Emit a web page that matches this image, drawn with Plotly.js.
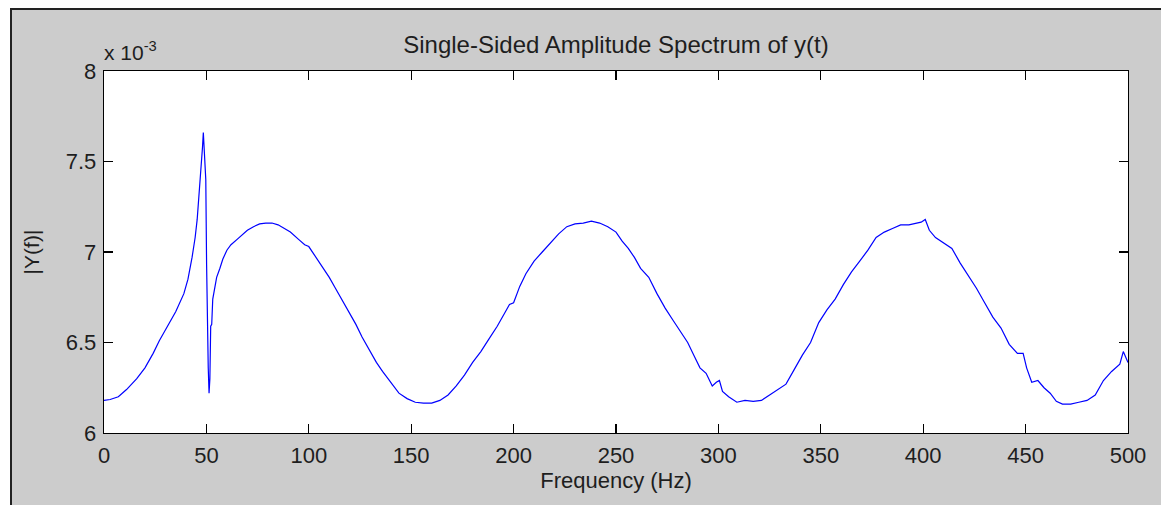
<!DOCTYPE html>
<html>
<head>
<meta charset="utf-8">
<script src="https://cdn.plot.ly/plotly-3.0.1.min.js"></script>
<style>
  html, body { margin: 0; padding: 0; background: #ffffff; width: 1161px; height: 505px; overflow: hidden; }
  #wrap { position: absolute; left: 10px; top: 8px; width: 1151px; height: 497px;
          border-left: 2px solid #222; border-top: 2px solid #222; background: #cccccc; }
  #chart { width: 1149px; height: 495px; }
</style>
</head>
<body>
<div id="wrap"><div id="chart"></div></div>
<script>
// Frequency (Hz)
const freq = [0, 3, 7, 11, 16, 20, 24, 27, 31, 35, 39, 41, 43, 44.5, 45.5, 46.3, 47, 47.6, 48.1, 48.5, 48.9, 49.3, 49.7, 50.1, 50.5, 50.9, 51.3, 51.7, 52.1, 52.6, 53.1, 54, 55, 56.6, 58, 60, 62, 65, 68, 70, 73, 76, 79, 82, 85, 88, 91, 95, 98, 100, 103, 106, 110, 113, 116, 120, 123, 126, 130, 133, 136, 140, 144, 148, 152, 156, 160, 164, 168, 172, 176, 180, 184, 188, 192, 196, 198, 200, 203, 206, 210, 214, 218, 222, 226, 230, 234, 238, 242, 246, 250, 253, 256, 259, 262, 266, 270, 274, 278, 282, 285, 288, 291, 294, 297, 299, 300.5, 302, 305, 309, 313, 317, 321, 325, 329, 333, 337, 341, 345, 349, 353, 357, 361, 365, 369, 373, 377, 381, 385, 389, 393, 397, 399, 401, 403, 406, 410, 414, 418, 422, 426, 430, 434, 438, 442, 446, 448.8, 450.5, 453, 456, 459, 462, 465, 468, 472, 476, 480, 484, 488, 492, 496, 497.7, 500];
// |Y(f)| in units of 1e-3
const amplitudeE3 = [6.18, 6.185, 6.20, 6.24, 6.30, 6.36, 6.44, 6.51, 6.59, 6.67, 6.77, 6.85, 6.97, 7.08, 7.18, 7.30, 7.38, 7.50, 7.58, 7.66, 7.55, 7.42, 7.40, 6.93, 6.46, 6.36, 6.22, 6.30, 6.59, 6.60, 6.74, 6.80, 6.86, 6.91, 6.96, 7.01, 7.04, 7.07, 7.10, 7.12, 7.14, 7.155, 7.16, 7.16, 7.15, 7.13, 7.11, 7.07, 7.04, 7.03, 6.98, 6.93, 6.86, 6.80, 6.74, 6.66, 6.60, 6.53, 6.45, 6.39, 6.34, 6.28, 6.22, 6.19, 6.17, 6.165, 6.165, 6.18, 6.21, 6.26, 6.32, 6.39, 6.45, 6.52, 6.59, 6.67, 6.71, 6.72, 6.81, 6.88, 6.95, 7.00, 7.05, 7.10, 7.14, 7.155, 7.16, 7.17, 7.16, 7.14, 7.11, 7.06, 7.02, 6.97, 6.91, 6.86, 6.77, 6.69, 6.62, 6.55, 6.50, 6.43, 6.36, 6.33, 6.26, 6.28, 6.29, 6.23, 6.20, 6.17, 6.18, 6.175, 6.18, 6.21, 6.24, 6.27, 6.35, 6.43, 6.50, 6.61, 6.68, 6.74, 6.82, 6.89, 6.95, 7.01, 7.08, 7.11, 7.13, 7.15, 7.15, 7.16, 7.165, 7.18, 7.12, 7.08, 7.05, 7.02, 6.94, 6.87, 6.80, 6.72, 6.64, 6.58, 6.49, 6.44, 6.44, 6.36, 6.28, 6.29, 6.25, 6.22, 6.175, 6.16, 6.16, 6.17, 6.18, 6.21, 6.29, 6.34, 6.38, 6.45, 6.39];
const xTicks = [0, 50, 100, 150, 200, 250, 300, 350, 400, 450, 500];
const yTicks = [6, 6.5, 7, 7.5, 8];
const yTickText = ['6', '6.5', '7', '7.5', '8'];

const FONT = 'Liberation Sans, Arial, sans-serif';
const TXT = '#1e1e1e';

const trace = {
  x: freq, y: amplitudeE3, type: 'scatter', mode: 'lines',
  line: { color: '#0000ff', width: 1.2 }, hoverinfo: 'x+y'
};

const axisCommon = {
  showline: true, linecolor: '#000', linewidth: 1.3, mirror: 'ticks',
  ticks: 'inside', ticklen: 9, tickwidth: 1.2, tickcolor: '#000',
  showgrid: false, zeroline: false,
  tickfont: { family: FONT, size: 22, color: TXT }
};

const layout = {
  width: 1149, height: 495,
  paper_bgcolor: '#cccccc', plot_bgcolor: '#ffffff',
  margin: { l: 92, r: 33, t: 61, b: 72 },
  showlegend: false,
  title: { text: 'Single-Sided Amplitude Spectrum of y(t)', font: { family: FONT, size: 24, color: TXT },
           x: 0.5, xref: 'paper', y: 1 - 35/495, yref: 'container', yanchor: 'middle' },
  xaxis: Object.assign({}, axisCommon, {
    range: [0, 500], tickvals: xTicks, ticktext: xTicks.map(String),
    ticklabelstandoff: 2,
    title: { text: 'Frequency (Hz)', font: { family: FONT, size: 22, color: TXT }, standoff: 4 }
  }),
  yaxis: Object.assign({}, axisCommon, {
    range: [6, 8], tickvals: yTicks, ticktext: yTickText,
    ticklabelstandoff: 2,
    title: { text: '|Y(f)|', font: { family: FONT, size: 21, color: TXT }, standoff: 20 }
  }),
  annotations: [{
    text: 'x 10<sup>-3</sup>', xref: 'paper', yref: 'paper', x: -0.002, y: 1.055,
    xanchor: 'left', yanchor: 'middle', showarrow: false,
    font: { family: FONT, size: 21, color: TXT }
  }]
};

Plotly.newPlot('chart', [trace], layout, { displayModeBar: false, staticPlot: true });
</script>
</body>
</html>
